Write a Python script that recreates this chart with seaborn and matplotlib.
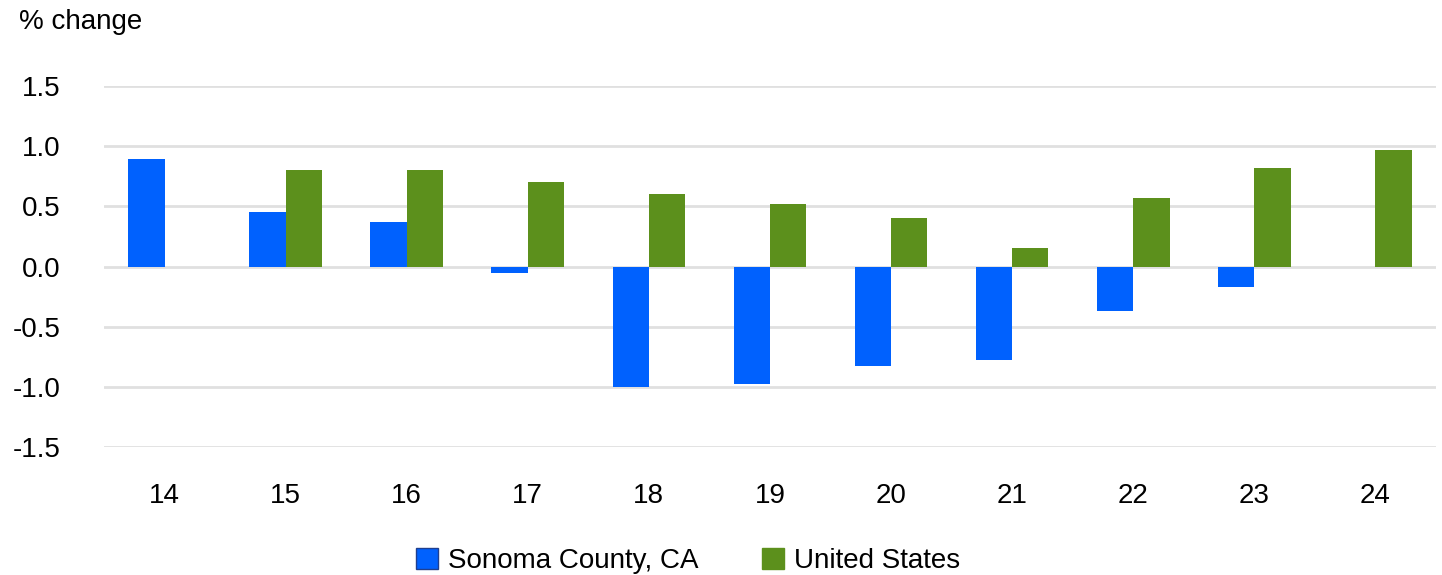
import pandas as pd
import numpy as np
import matplotlib
matplotlib.use("Agg")
import matplotlib.pyplot as plt
import seaborn as sns

# ── Data ─────────────────────────────────────────────────────────────────────
years = ["14", "15", "16", "17", "18", "19", "20", "21", "22", "23", "24"]
sonoma = [0.89, 0.45, 0.37, -0.05, -1.00, -0.98, -0.83, -0.78, -0.37, -0.17, np.nan]
united_states = [np.nan, 0.80, 0.80, 0.70, 0.60, 0.52, 0.40, 0.15, 0.57, 0.82, 0.97]
series_names = ["Sonoma County, CA", "United States"]
y_ticks = [-1.5, -1.0, -0.5, 0.0, 0.5, 1.0, 1.5]

BLUE = "#0061FE"
GREEN = "#5C901C"

df = pd.DataFrame({
    "year": years * 2,
    "value": sonoma + united_states,
    "series": [series_names[0]] * len(years) + [series_names[1]] * len(years),
})

sns.set_theme(style="white")
plt.rcParams["font.family"] = ["Liberation Sans", "DejaVu Sans"]
plt.rcParams["text.color"] = "black"

fig = plt.figure(figsize=(14.42, 5.75), dpi=100)
ax = fig.add_axes([0.0721, 0.2226, 0.9237, 0.6278])

sns.barplot(
    data=df, x="year", y="value", hue="series", order=years,
    hue_order=series_names, palette=[BLUE, GREEN], width=0.6,
    saturation=1, linewidth=0, ax=ax, legend=False,
)

ax.set_ylim(-1.5, 1.5)
ax.set_xlim(-0.5, len(years) - 0.5)
ax.set_yticks(y_ticks)
ax.set_yticklabels([f"{t:.1f}" for t in y_ticks])
ax.yaxis.grid(True, color="#e0e0e0", linewidth=2)
ax.set_axisbelow(True)
for s in ax.spines.values():
    s.set_visible(False)
ax.tick_params(axis="both", length=0, labelsize=20, colors="black")
ax.tick_params(axis="y", pad=31)
ax.tick_params(axis="x", pad=26)
ax.set_xlabel("")
ax.set_ylabel("")

fig.text(0.013, 0.962, "% change", fontsize=20, va="center", ha="left")

handles = [
    plt.Rectangle((0, 0), 1, 1, facecolor=BLUE, edgecolor="#1f3f8f", linewidth=1),
    plt.Rectangle((0, 0), 1, 1, facecolor=GREEN, edgecolor=GREEN, linewidth=1),
]
fig.legend(handles, series_names, loc="center", bbox_to_anchor=(0.477, 0.024),
           ncol=2, frameon=False, fontsize=20, handlelength=0.8, handleheight=0.8,
           handletextpad=0.35, columnspacing=2.3)

fig.savefig("out.png", dpi=100)
